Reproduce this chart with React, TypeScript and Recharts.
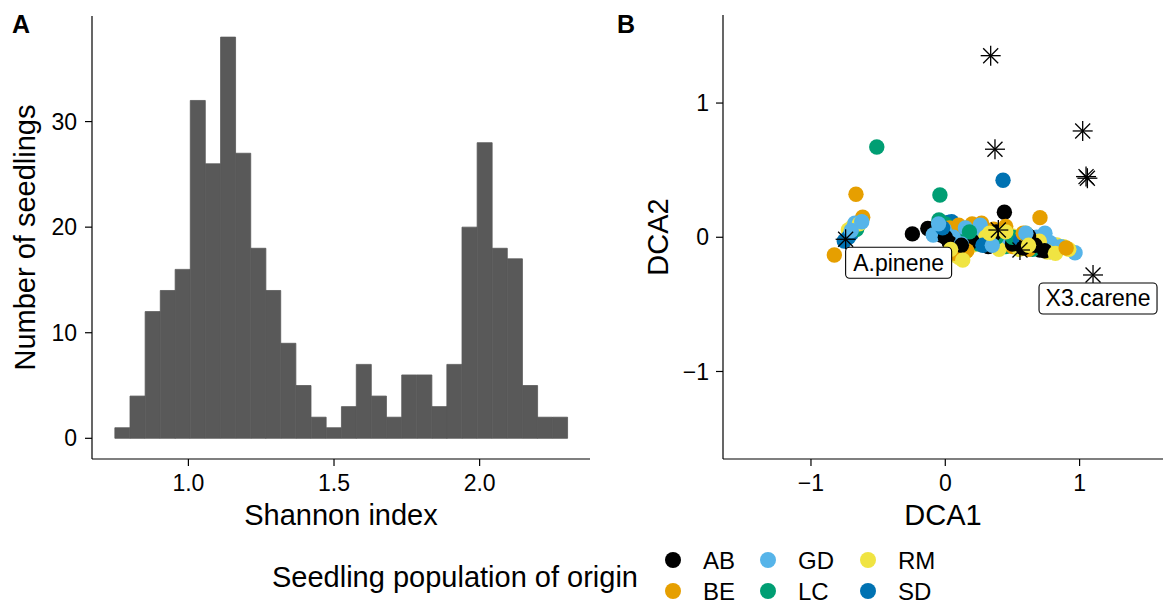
import React from 'react';
import {
  ComposedChart, Bar, XAxis, YAxis, ScatterChart, Scatter, Label,
} from 'recharts';

// ---------- Panel A: histogram of Shannon index ----------
const BIN_CENTERS = [
  0.773, 0.825, 0.877, 0.929, 0.980, 1.032, 1.084, 1.136, 1.188, 1.240,
  1.291, 1.343, 1.395, 1.447, 1.499, 1.551, 1.602, 1.654, 1.706, 1.758,
  1.810, 1.862, 1.913, 1.965, 2.017, 2.069, 2.121, 2.173, 2.224, 2.276,
];
const BIN_COUNTS = [
  1, 4, 12, 14, 16, 32, 26, 38, 27, 18,
  14, 9, 5, 2, 1, 3, 7, 4, 2, 6,
  6, 3, 7, 20, 28, 18, 17, 5, 2, 2,
];
const HIST_X_TICKS = [1.0, 1.5, 2.0];
const HIST_Y_TICKS = [0, 10, 20, 30];

// ---------- Panel B: DCA ordination ----------
const POPULATIONS = ['AB', 'BE', 'GD', 'LC', 'RM', 'SD'];
const POP_COLORS = ['#000000', '#E69F00', '#56B4E9', '#009E73', '#F0E442', '#0072B2'];

const AB = [
  [-0.245, 0.025], [-0.13, 0.065], [0.44, 0.186], [-0.03, 0.017], [0.058, -0.07],
  [0.085, -0.082], [0.643, -0.02], [0.705, -0.095], [0.78, -0.107], [0.83, -0.095],
  [0.0, 0.0], [0.03, -0.04], [0.2, -0.03], [0.32, -0.07], [0.38, 0.04],
  [0.5, -0.05], [0.58, -0.08], [0.67, -0.06], [0.74, -0.1], [0.62, 0.01], [0.12, -0.06],
];
const BE = [
  [-0.665, 0.32], [-0.615, 0.149], [-0.826, -0.132], [-0.63, 0.12], [0.705, 0.146],
  [0.27, 0.104], [0.134, -0.033], [0.03, 0.07], [0.1, 0.09], [0.2, 0.1],
  [0.36, 0.06], [0.42, -0.01], [0.5, -0.07], [0.62, -0.09], [0.74, -0.07],
  [0.8, -0.09], [0.07, -0.12], [0.45, 0.08], [0.58, 0.03], [0.16, -0.1], [0.9, -0.08],
];
const GD = [
  [0.966, -0.115], [0.742, 0.03], [0.308, -0.04], [-0.09, 0.017], [-0.673, 0.104],
  [-0.622, 0.116], [-0.7, 0.05], [0.0, 0.05], [0.06, 0.0], [0.15, 0.07],
  [0.22, 0.02], [0.26, 0.09], [0.4, -0.03], [0.47, 0.02], [0.55, -0.04],
  [0.68, 0.0], [0.78, -0.04], [0.86, -0.07], [0.35, -0.06], [0.12, -0.05],
  [0.6, 0.03], [-0.05, 0.1],
];
const LC = [
  [-0.51, 0.673], [-0.04, 0.315], [-0.047, 0.129], [-0.648, 0.092], [-0.66, 0.06],
  [0.53, -0.045], [0.0, 0.1], [0.1, 0.02], [0.3, -0.02], [0.45, -0.07],
  [0.6, -0.07], [0.25, -0.05], [0.65, -0.09], [0.38, 0.0], [0.18, 0.04], [0.5, 0.0],
];
const RM = [
  [0.83, -0.057], [0.246, -0.045], [-0.722, 0.054], [-0.69, 0.08], [-0.64, 0.1],
  [0.88, -0.07], [0.92, -0.09], [0.06, -0.13], [0.1, -0.15], [0.15, -0.11],
  [0.2, -0.06], [0.3, 0.0], [0.4, -0.09], [0.5, 0.01], [0.55, -0.09],
  [0.6, 0.03], [0.7, -0.03], [0.76, -0.11], [0.82, -0.12], [0.33, 0.03],
  [0.45, 0.04], [0.62, -0.06], [0.04, -0.09], [0.13, -0.17],
];
const SD = [
  [0.43, 0.425], [0.022, 0.11], [0.047, 0.116], [-0.697, 0.03], [-0.752, -0.028],
  [-0.72, 0.0], [0.1, 0.0], [0.2, 0.04], [0.35, -0.02], [0.48, 0.01],
  [0.65, -0.05], [0.72, -0.08], [0.8, -0.1], [-0.02, 0.07], [0.28, -0.06], [0.56, -0.02],
];
const POP_POINTS = [AB, BE, GD, LC, RM, SD];

const SPECIES_X = [0.338, 0.37, 1.023, 1.048, 1.058, 0.395, 0.556, 1.10, -0.742];
const SPECIES_Y = [1.353, 0.656, 0.792, 0.452, 0.44, 0.054, -0.095, -0.281, -0.015];
const SPECIES_LABEL = ['', '', '', '', '', '', '', 'X3.carene', 'A.pinene'];
const DCA_TICKS = [-1, 0, 1];

// ---------- derived tables ----------
const histData = BIN_CENTERS.map((x, i) => ({ x, count: BIN_COUNTS[i] }));

const sitePoints: { x: number; y: number; pop: number }[] = [];
const maxLen = Math.max(...POP_POINTS.map((p) => p.length));
for (let i = 0; i < maxLen; i++) {
  POP_POINTS.forEach((pts, g) => {
    if (i < pts.length) sitePoints.push({ x: pts[i][0], y: pts[i][1], pop: g });
  });
}
const speciesData = SPECIES_X.map((x, i) => ({ x, y: SPECIES_Y[i], label: SPECIES_LABEL[i] }));

// ---------- styling ----------
const FONT = '"Liberation Sans", Arial, Helvetica, sans-serif';
const TICK_STYLE = { fill: '#000', fontSize: 23 };
const AXIS_LINE = { stroke: '#000', strokeWidth: 1.2 };
const TICK_LINE = { stroke: '#000', strokeWidth: 1.2 };
const POINT_R = 7.7;
const LABEL_LAYOUT: Record<string, { dx: number; dy: number; w: number }> = {
  'A.pinene': { dx: 0, dy: 8, w: 106 },
  'X3.carene': { dx: -54, dy: 8, w: 118 },
};

const fmtMinus = (v: number) => (v < 0 ? '\u2212' + Math.abs(v) : String(v));

const XTitle = (text: string, baseline: number) => (props: any) => {
  const vb = props.viewBox;
  return (
    <text x={vb.x + vb.width / 2} y={baseline} textAnchor="middle" fontSize={29} fill="#000">
      {text}
    </text>
  );
};
const YTitle = (text: string, baselineX: number) => (props: any) => {
  const vb = props.viewBox;
  const cy = vb.y + vb.height / 2;
  return (
    <text
      x={baselineX}
      y={cy}
      textAnchor="middle"
      fontSize={29}
      fill="#000"
      transform={`rotate(-90 ${baselineX} ${cy})`}
    >
      {text}
    </text>
  );
};

const DotShape = (props: any) => {
  const { cx, cy, payload } = props;
  return <circle cx={cx} cy={cy} r={POINT_R} fill={POP_COLORS[payload.pop]} />;
};

const StarShape = (props: any) => {
  const { cx, cy, payload } = props;
  const a = 10;
  const d = 7.5;
  const lay = payload && payload.label ? LABEL_LAYOUT[payload.label] : null;
  return (
    <g>
      <g stroke="#000" strokeWidth={1.3}>
        <line x1={cx - a} y1={cy} x2={cx + a} y2={cy} />
        <line x1={cx} y1={cy - a} x2={cx} y2={cy + a} />
        <line x1={cx - d} y1={cy - d} x2={cx + d} y2={cy + d} />
        <line x1={cx - d} y1={cy + d} x2={cx + d} y2={cy - d} />
      </g>
      {lay && (
        <g>
          <rect
            x={cx + lay.dx}
            y={cy + lay.dy}
            width={lay.w}
            height={31}
            rx={4}
            ry={4}
            fill="#fff"
            stroke="#000"
            strokeWidth={1.1}
          />
          <text x={cx + lay.dx + lay.w / 2} y={cy + lay.dy + 23.5} textAnchor="middle" fontSize={23} fill="#000">
            {payload.label}
          </text>
        </g>
      )}
    </g>
  );
};

const Legend = () => {
  const colX = [673, 768, 868];
  const rowY = [560, 591];
  return (
    <svg
      width={1163}
      height={603}
      style={{ position: 'absolute', left: 0, top: 0, pointerEvents: 'none', fontFamily: FONT }}
    >
      <text x={12} y={33} fontSize={25} fontWeight="bold" fill="#000">A</text>
      <text x={617} y={33} fontSize={25} fontWeight="bold" fill="#000">B</text>
      <text x={272} y={587} fontSize={29} fill="#000">Seedling population of origin</text>
      {POPULATIONS.map((p, i) => {
        const col = Math.floor(i / 2);
        const row = i % 2;
        return (
          <g key={p}>
            <circle cx={colX[col]} cy={rowY[row]} r={8} fill={POP_COLORS[i]} />
            <text x={colX[col] + 30} y={rowY[row] + 8.5} fontSize={24} fill="#000">{p}</text>
          </g>
        );
      })}
    </svg>
  );
};

export default function App() {
  return (
    <div
      style={{
        position: 'absolute', left: 0, top: 0, width: 1163, height: 603,
        background: '#fff', fontFamily: FONT, overflow: 'hidden',
      }}
    >
      <div style={{ position: 'absolute', left: 0, top: 0 }}>
        <ComposedChart
          width={600}
          height={603}
          data={histData}
          margin={{ top: 16, right: 10, left: 0, bottom: 74 }}
          barGap={0}
          barCategoryGap={0}
        >
          <XAxis
            dataKey="x"
            type="number"
            domain={[0.669, 2.379]}
            allowDataOverflow
            ticks={HIST_X_TICKS}
            tickFormatter={(v: number) => v.toFixed(1)}
            tick={TICK_STYLE}
            tickSize={7}
            tickMargin={9}
            axisLine={AXIS_LINE}
            tickLine={TICK_LINE}
            height={70}
          >
            <Label content={XTitle('Shannon index', 525)} />
          </XAxis>
          <YAxis
            type="number"
            domain={[-1.96, 40.0]}
            allowDataOverflow
            ticks={HIST_Y_TICKS}
            tick={TICK_STYLE}
            tickSize={7}
            tickMargin={8}
            axisLine={AXIS_LINE}
            tickLine={TICK_LINE}
            width={92}
          >
            <Label content={YTitle('Number of seedlings', 35)} />
          </YAxis>
          <Bar
            dataKey="count"
            fill="#595959"
            stroke="#595959"
            strokeWidth={0.8}
            isAnimationActive={false}
          />
        </ComposedChart>
      </div>
      <div style={{ position: 'absolute', left: 600, top: 0 }}>
        <ScatterChart
          width={563}
          height={603}
          margin={{ top: 15, right: 0, left: 0, bottom: 74 }}
        >
          <XAxis
            dataKey="x"
            type="number"
            domain={[-1.655, 1.621]}
            allowDataOverflow
            ticks={DCA_TICKS}
            tickFormatter={fmtMinus}
            tick={TICK_STYLE}
            tickSize={7}
            tickMargin={9}
            axisLine={AXIS_LINE}
            tickLine={TICK_LINE}
            height={70}
          >
            <Label content={XTitle('DCA1', 525)} />
          </XAxis>
          <YAxis
            dataKey="y"
            type="number"
            domain={[-1.652, 1.656]}
            allowDataOverflow
            ticks={DCA_TICKS}
            tickFormatter={fmtMinus}
            tick={TICK_STYLE}
            tickSize={7}
            tickMargin={7}
            axisLine={AXIS_LINE}
            tickLine={TICK_LINE}
            width={123}
          >
            <Label content={YTitle('DCA2', 68)} />
          </YAxis>
          <Scatter data={sitePoints} shape={DotShape} isAnimationActive={false} />
          <Scatter data={speciesData} shape={StarShape} isAnimationActive={false} />
        </ScatterChart>
      </div>
      <Legend />
    </div>
  );
}
